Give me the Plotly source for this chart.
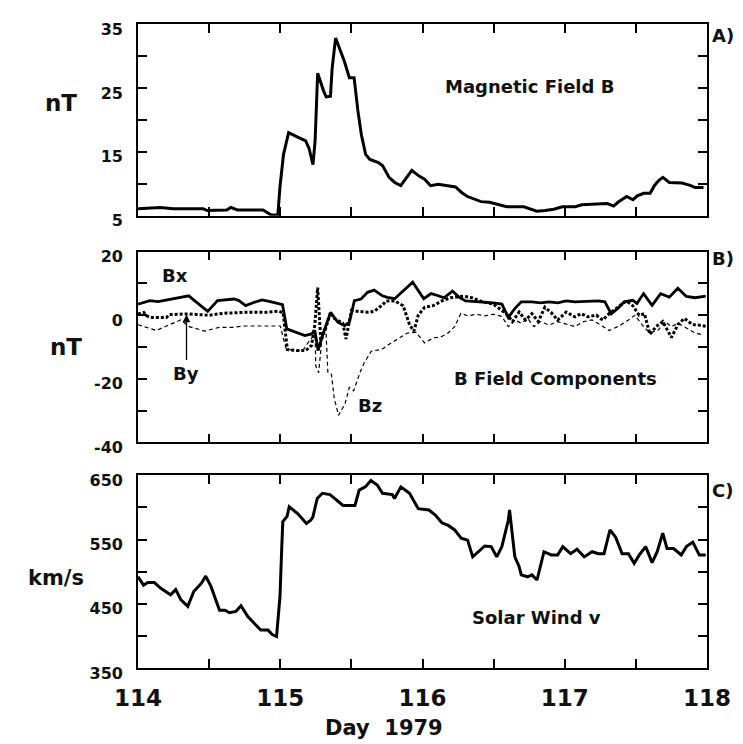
import plotly.graph_objects as go

# ---------------- Data ----------------
# Panel A: magnetic field magnitude B (nT)
b_day = [114.000, 114.156, 114.247, 114.457, 114.487, 114.623, 114.653, 114.698, 114.878,
         114.938, 114.983, 114.998, 115.023, 115.059, 115.104, 115.179, 115.203, 115.230,
         115.245, 115.263, 115.305, 115.323, 115.353, 115.365, 115.389, 115.450, 115.486,
         115.519, 115.546, 115.570, 115.600, 115.630, 115.690, 115.720, 115.765, 115.805,
         115.847, 115.886, 115.925, 115.976, 116.015, 116.057, 116.111, 116.232, 116.277,
         116.316, 116.367, 116.412, 116.472, 116.532, 116.592, 116.713, 116.758, 116.803,
         116.863, 116.923, 116.983, 117.074, 117.119, 117.299, 117.344, 117.374, 117.435,
         117.480, 117.510, 117.555, 117.600, 117.630, 117.660, 117.690, 117.735, 117.826,
         117.886, 117.916, 117.976]
b_val = [6.1, 6.3, 6.1, 6.1, 5.8, 5.9, 6.3, 5.9, 5.9,
         5.1, 5.1, 9.5, 14.6, 18.0, 17.5, 16.7, 15.5, 13.0,
         16.7, 27.3, 24.5, 23.6, 23.7, 28.1, 32.8, 29.2, 26.6,
         26.6, 21.4, 17.7, 14.6, 13.8, 13.3, 12.8, 11.0, 10.2,
         9.7, 11.0, 12.1, 11.2, 10.7, 9.7, 9.9, 9.5, 8.6,
         8.0, 7.6, 7.2, 7.1, 6.7, 6.4, 6.4, 6.0, 5.7,
         5.8, 6.0, 6.4, 6.4, 6.7, 6.9, 6.5, 7.1, 8.0,
         7.5, 8.1, 8.5, 8.5, 9.7, 10.5, 11.0, 10.2, 10.1,
         9.7, 9.4, 9.4]

# Panel B: field components (nT)
bx_day = [114.000, 114.083, 114.141, 114.200, 114.246, 114.292, 114.357, 114.397, 114.490,
          114.559, 114.617, 114.675, 114.710, 114.756, 114.814, 114.872, 114.930, 114.988,
          115.016, 115.046, 115.173, 115.220, 115.243, 115.266, 115.300, 115.354, 115.405,
          115.452, 115.486, 115.521, 115.568, 115.614, 115.660, 115.718, 115.753, 115.804,
          115.864, 115.931, 116.009, 116.060, 116.106, 116.151, 116.211, 116.256, 116.302,
          116.437, 116.498, 116.558, 116.603, 116.649, 116.694, 116.769, 116.830, 116.890,
          116.950, 117.011, 117.071, 117.237, 117.282, 117.327, 117.373, 117.418, 117.478,
          117.508, 117.554, 117.614, 117.674, 117.735, 117.795, 117.855, 117.916, 117.991]
bx_val = [3.5, 4.6, 4.3, 4.8, 5.1, 5.5, 6.1, 4.6, 1.2,
          4.6, 4.8, 5.1, 4.6, 3.0, 4.0, 4.8, 4.3, 3.7,
          3.3, -4.3, -6.4, -5.9, -4.8, -11.1, -5.9, 0.9, -2.2,
          -3.3, -2.2, 4.6, 5.1, 7.2, 7.9, 6.1, 5.6, 5.2,
          7.8, 10.4, 5.2, 6.8, 6.2, 5.5, 7.6, 5.7, 4.5,
          4.2, 3.9, 3.5, -0.7, 2.1, 4.2, 4.2, 3.9, 4.2,
          3.9, 4.5, 4.2, 4.5, 4.2, 0.4, 2.1, 4.2, 4.7,
          3.7, 6.8, 3.1, 6.8, 5.7, 8.5, 5.9, 5.5, 6.0]

by_day = [114.000, 114.040, 114.060, 114.090, 114.200, 114.220, 114.350, 114.500, 114.600,
          114.750, 114.900, 114.990, 115.020, 115.050, 115.120, 115.180, 115.220, 115.243,
          115.263, 115.285, 115.320, 115.354, 115.380, 115.440, 115.462, 115.500, 115.550,
          115.620, 115.660, 115.720, 115.744, 115.804, 115.864, 115.909, 115.940, 115.970,
          116.015, 116.075, 116.136, 116.196, 116.287, 116.347, 116.422, 116.498, 116.528,
          116.588, 116.633, 116.679, 116.724, 116.769, 116.814, 116.860, 116.905, 116.950,
          117.011, 117.071, 117.116, 117.161, 117.222, 117.267, 117.312, 117.373, 117.433,
          117.478, 117.523, 117.560, 117.599, 117.644, 117.689, 117.750, 117.795, 117.840,
          117.900, 117.930, 117.991]
by_val = [0.4, 0.9, -0.2, -0.7, -0.7, 0.2, 0.4, 0.0, 0.6,
          0.9, 0.9, 1.3, 0.8, -10.8, -11.1, -11.1, -9.5, -3.0,
          8.7, -8.0, -4.0, 0.9, -1.0, -2.5, -7.5, 1.5, 1.2,
          0.9, 1.2, 3.3, 4.5, 4.5, 3.0, -3.0, -5.0, 0.0,
          2.5, 3.0, 4.5, 5.5, 6.0, 5.5, 4.2, 3.5, 2.5,
          0.5, -2.0, 1.0, -1.5, 0.5, -2.0, 2.5, 0.8, -1.5,
          1.0, -0.5, 0.5, -0.5, 0.0, -1.5, 0.5, 2.5, 4.5,
          3.0, 0.0, 0.5, -6.0, -3.5, -2.0, -7.0, -3.0, -1.0,
          -3.0, -3.0, -3.5]

bz_day = [114.000, 114.050, 114.130, 114.200, 114.300, 114.360, 114.470, 114.570, 114.660,
          114.750, 114.900, 115.000, 115.040, 115.100, 115.160, 115.210, 115.245, 115.250,
          115.270, 115.290, 115.320, 115.335, 115.360, 115.380, 115.410, 115.455, 115.486,
          115.516, 115.560, 115.590, 115.640, 115.713, 115.760, 115.800, 115.850, 115.894,
          115.955, 116.015, 116.075, 116.136, 116.180, 116.226, 116.270, 116.317, 116.377,
          116.437, 116.498, 116.558, 116.603, 116.649, 116.694, 116.739, 116.784, 116.830,
          116.890, 116.950, 117.011, 117.071, 117.131, 117.192, 117.252, 117.312, 117.373,
          117.433, 117.493, 117.554, 117.599, 117.659, 117.704, 117.750, 117.795, 117.855,
          117.916, 117.976]
bz_val = [-3.0, -3.6, -4.8, -3.4, -1.5, -3.6, -5.0, -3.8, -3.8,
          -3.4, -3.4, -3.4, -10.3, -11.3, -11.0, -7.7, -6.2, -16.0,
          -18.1, -8.7, -3.6, -18.1, -18.6, -26.3, -31.5, -27.9, -22.7,
          -23.8, -18.1, -15.0, -11.3, -10.8, -9.3, -8.2, -6.7, -5.6,
          -5.4, -8.7, -7.2, -6.7, -5.6, -3.6, 0.6, -0.2, 0.3,
          -0.2, 0.3, -0.4, -3.6, -1.5, -2.5, -1.0, -3.6, -2.0,
          -3.1, -2.0, -2.8, -3.6, -2.0, -1.5, -3.1, -4.8, -3.6,
          -2.0, 0.0, -3.6, -5.6, -4.6, -2.0, -3.6, -2.5, -4.1,
          -5.6, -6.2]

# Panel C: solar wind speed (km/s)
v_day = [114.000, 114.039, 114.069, 114.115, 114.160, 114.229, 114.265, 114.302, 114.350,
         114.392, 114.446, 114.476, 114.513, 114.552, 114.573, 114.612, 114.642, 114.688,
         114.724, 114.772, 114.824, 114.863, 114.914, 114.944, 114.974, 114.989, 114.998,
         115.010, 115.018, 115.048, 115.063, 115.124, 115.184, 115.214, 115.229, 115.260,
         115.296, 115.350, 115.405, 115.441, 115.525, 115.555, 115.598, 115.637, 115.682,
         115.719, 115.788, 115.803, 115.848, 115.909, 115.970, 116.045, 116.090, 116.136,
         116.181, 116.226, 116.272, 116.317, 116.353, 116.392, 116.437, 116.483, 116.522,
         116.558, 116.603, 116.612, 116.649, 116.679, 116.694, 116.739, 116.769, 116.805,
         116.854, 116.905, 116.950, 116.986, 117.041, 117.086, 117.137, 117.192, 117.237,
         117.276, 117.318, 117.357, 117.403, 117.448, 117.488, 117.524, 117.569, 117.614,
         117.650, 117.689, 117.719, 117.765, 117.819, 117.855, 117.900, 117.946, 117.991]
v_val = [492, 479, 483, 483, 474, 464, 472, 456, 446,
         469, 482, 493, 477, 451, 440, 440, 436, 438,
         447, 430, 417, 409, 409, 402, 399, 440, 461,
         534, 578, 586, 601, 590, 575, 580, 585, 614,
         622, 620, 609, 603, 603, 627, 632, 642, 635,
         622, 620, 614, 632, 622, 598, 596, 588, 576,
         572, 565, 552, 549, 523, 531, 540, 539, 523,
         539, 580, 596, 523, 508, 495, 492, 495, 487,
         531, 526, 526, 539, 528, 535, 523, 531, 528,
         528, 565, 554, 528, 528, 513, 526, 539, 514,
         531, 560, 536, 536, 526, 539, 546, 526, 526]

# Tick definitions
x_ticks = [114, 114.5, 115, 115.5, 116, 116.5, 117, 117.5, 118]
x_ticklabels = ["114", "", "115", "", "116", "", "117", "", "118"]
ya_ticks = [5, 10, 15, 20, 25, 30, 35]
ya_labels = ["5", "", "15", "", "25", "", "35"]
yb_ticks = [-40, -30, -20, -10, 0, 10, 20]
yb_labels = ["-40", "", "-20", "", "0", "", "20"]
yc_ticks = [350, 400, 450, 500, 550, 600, 650]
yc_labels = ["350", "", "450", "", "550", "", "650"]

# ---------------- Figure ----------------
# The page body has a default 8px margin, so the figure is drawn 8px
# right/down of the window corner; page coordinates are converted below.
OFF = 8
WIN_W, WIN_H = 743, 744
W, H = WIN_W - OFF, WIN_H - OFF
# plot area in page coordinates: x 138..713, y 23..668
L = 138 - OFF
R = W - (713 - OFF)
T = 23 - OFF
B = H - (668 - OFF)
PW, PH = W - L - R, H - T - B


def xp(px):
    return (px - OFF - L) / PW


def yp(py):
    return (H - B - (py - OFF)) / PH


FONT = "DejaVu Sans"
ink = "#111111"

fig = go.Figure()
fig.add_trace(go.Scatter(x=b_day, y=b_val, mode="lines", xaxis="x", yaxis="y",
                         line=dict(color="black", width=3), showlegend=False))
fig.add_trace(go.Scatter(x=bz_day, y=bz_val, mode="lines", xaxis="x2", yaxis="y2",
                         line=dict(color="black", width=1.2, dash="4px,3px"), showlegend=False))
fig.add_trace(go.Scatter(x=by_day, y=by_val, mode="lines", xaxis="x2", yaxis="y2",
                         line=dict(color="black", width=3, dash="3px,2px"), showlegend=False))
fig.add_trace(go.Scatter(x=bx_day, y=bx_val, mode="lines", xaxis="x2", yaxis="y2",
                         line=dict(color="black", width=2.8), showlegend=False))
fig.add_trace(go.Scatter(x=v_day, y=v_val, mode="lines", xaxis="x3", yaxis="y3",
                         line=dict(color="black", width=3), showlegend=False))

common_axis = dict(showline=True, linecolor="black", linewidth=1.6, mirror="allticks",
                   ticks="inside", ticklen=9, tickwidth=1.6, tickcolor="black",
                   showgrid=False, zeroline=False)

ytickfont = dict(family=FONT, size=16, color=ink, weight="bold")
xtickfont = dict(family=FONT, size=23, color=ink, weight="bold")

dom_a = [yp(215), yp(23)]
dom_b = [yp(442), yp(251)]
dom_c = [yp(668), yp(475)]

fig.update_layout(
    width=W, height=H,
    margin=dict(l=L, r=R, t=T, b=B),
    paper_bgcolor="white", plot_bgcolor="white",
    xaxis=dict(common_axis, domain=[0, 1], range=[114, 118], anchor="y",
               tickvals=x_ticks, ticktext=[""] * len(x_ticks)),
    xaxis2=dict(common_axis, domain=[0, 1], range=[114, 118], anchor="y2",
                tickvals=x_ticks, ticktext=[""] * len(x_ticks)),
    xaxis3=dict(common_axis, domain=[0, 1], range=[114, 118], anchor="y3",
                tickvals=x_ticks, ticktext=x_ticklabels, tickfont=xtickfont,
                ticklabelstandoff=9),
    yaxis=dict(common_axis, domain=dom_a, range=[5, 35], anchor="x",
               tickvals=ya_ticks, ticktext=ya_labels, tickfont=ytickfont,
               ticklabelstandoff=10, ticklabelshift=5),
    yaxis2=dict(common_axis, domain=dom_b, range=[-40, 20], anchor="x2",
                tickvals=yb_ticks, ticktext=yb_labels, tickfont=ytickfont,
                ticklabelstandoff=10, ticklabelshift=5),
    yaxis3=dict(common_axis, domain=dom_c, range=[350, 650], anchor="x3",
                tickvals=yc_ticks, ticktext=yc_labels, tickfont=ytickfont,
                ticklabelstandoff=10, ticklabelshift=5),
)


def label(text, px, py, size=18, xanchor="center"):
    fig.add_annotation(text=text, x=xp(px), y=yp(py), xref="paper", yref="paper",
                       showarrow=False, xanchor=xanchor, yanchor="middle",
                       font=dict(family=FONT, size=size, color=ink, weight="bold"))


label("Magnetic Field B", 534, 86)
label("B Field Components", 560, 378)
label("Solar Wind v", 541, 617)
label("Bx", 175, 275)
label("By", 187, 373)
label("Bz", 372, 405)
label("nT", 60, 102, size=23)
label("nT", 65, 347, size=23)
label("km/s", 55, 578, size=21)
label("Day  1979", 387, 728, size=21)
label("A)", 716, 35, size=18, xanchor="left")
label("B)", 716, 258, size=18, xanchor="left")
label("C)", 716, 490, size=18, xanchor="left")

# arrow from By label up to the By line
fig.add_annotation(x=xp(187), y=yp(314), xref="paper", yref="paper",
                   ax=0, ay=47, axref="pixel", ayref="pixel",
                   text="", showarrow=True, arrowhead=2, arrowsize=1.2,
                   arrowwidth=1.3, arrowcolor="black")

fig.write_html("out.html")
